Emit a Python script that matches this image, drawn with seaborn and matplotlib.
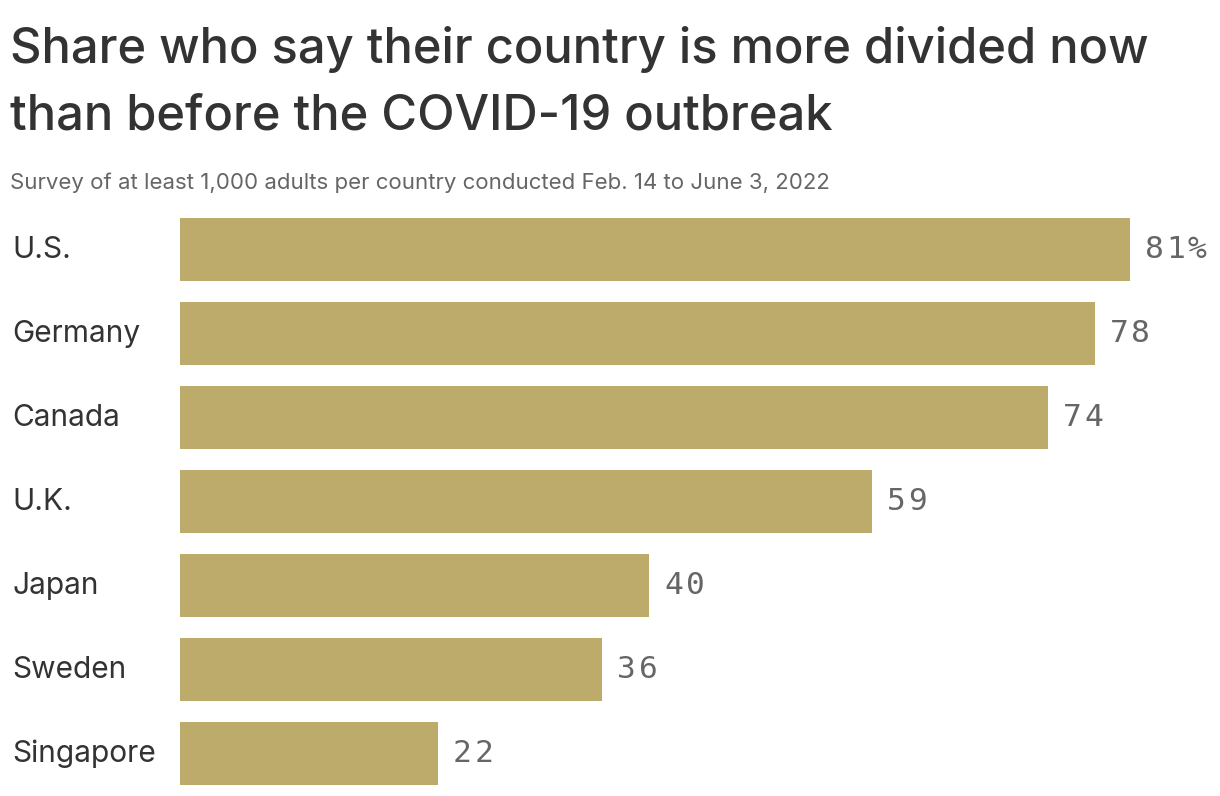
import seaborn as sns
import matplotlib.pyplot as plt
import matplotlib.transforms as mtransforms
import pandas as pd

# Share (%) who say their country is more divided now
countries = ["U.S.", "Germany", "Canada", "U.K.", "Japan", "Sweden", "Singapore"]
shares = [81, 78, 74, 59, 40, 36, 22]

df = pd.DataFrame({"country": countries, "share": shares})

sns.set_style("white")
plt.rcParams['font.family'] = ['Inter', 'DejaVu Sans']

W, H = 1220, 796
fig = plt.figure(figsize=(W / 100, H / 100), dpi=100)
ax = fig.add_axes([180 / W, 0.5 / H, 950 / W, 588 / H])

sns.barplot(data=df, x="share", y="country", color="#bdab6c", saturation=1,
            width=0.75, linewidth=0, ax=ax)
ax.set_xlim(0, 81)
ax.set_ylim(6.5, -0.5)

# value labels, monospace with wide letter spacing
for i, v in enumerate(shares):
    lab = f"{v}%" if i == 0 else f"{v}"
    for k, ch in enumerate(lab):
        ax.annotate(ch, xy=(v, i), xytext=(15 + k * 21.5, 0),
                    textcoords="offset pixels", va="center", ha="left",
                    fontsize=22.5, family=["DejaVu Sans Mono"],
                    color="#666666", annotation_clip=False)

# category labels at the left edge of the figure
ax.set_yticks([])
ax.set_xticks([])
blend = mtransforms.blended_transform_factory(fig.transFigure, ax.transData)
for i, c in enumerate(countries):
    ax.text(12 / W, i, c, transform=blend, va="center", ha="left",
            fontsize=21.5, color="#333333")

ax.set_xlabel("")
ax.set_ylabel("")
sns.despine(ax=ax, left=True, bottom=True)

title_lines = ["Share who say their country is more divided now",
               "than before the COVID-19 outbreak"]
for y, line in zip([63, 130], title_lines):
    fig.text(10 / W, 1 - y / H, line, fontsize=35.2, color="#333333",
             fontweight="medium", va="baseline", ha="left")
fig.text(10 / W, 1 - 189 / H,
         "Survey of at least 1,000 adults per country conducted Feb. 14 to June 3, 2022",
         fontsize=16, color="#666666", va="baseline", ha="left")

fig.savefig("out.png", dpi=100)
